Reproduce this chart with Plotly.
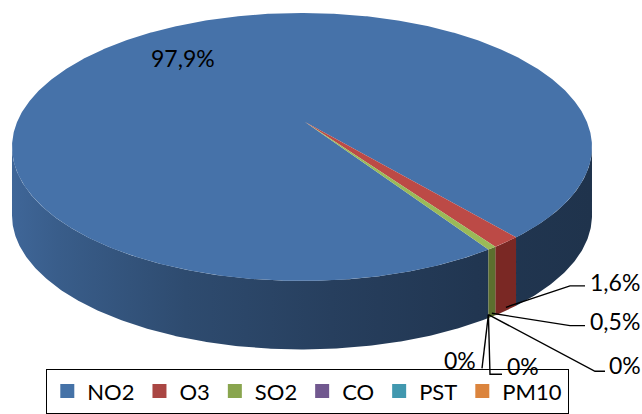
import numpy as np
import plotly.graph_objects as go

# ---------------- data ----------------
pollutants = ["NO2", "O3", "SO2", "CO", "PST", "PM10"]
shares = [97.9, 1.6, 0.5, 0.0, 0.0, 0.0]
label_texts = ["97,9%", "1,6%", "0,5%", "0%", "0%", "0%"]

# ---------------- style ----------------
legend_colors = ["#4572A7", "#AA4643", "#89A54E", "#71588F", "#4198AF", "#DB843D"]
top_colors = ["#4672A9", "#BC4A46", "#9ABA58", "#71588F", "#4198AF", "#DB843D"]
side_colors = ["#2C4A74", "#7A2824", "#5C6F2E", "#4A3A5E", "#2B6473", "#8F5628"]
side_shade = [(0.0, 0.90), (0.08, 0.82), (0.3, 0.66), (0.55, 0.56), (0.8, 0.48), (1.0, 0.45)]

W, H = 642, 414
CX, CY, A, B = 302, 148, 290, 135     # top ellipse (pixels)
DEPTH = 69
APEX = (305, 123)                       # perspective centre of the top face
START = 140.0                            # first slice angle, deg clockwise from 12 o'clock
FONT = "Lato, 'Open Sans', sans-serif"

# label placement (pixels): text anchor, xanchor, leader elbow points
label_layout = [
    dict(x=183, y=58, xa="center", path=None),
    dict(x=588, y=284, xa="left", path=[(570, 288), (585, 288)]),
    dict(x=588, y=323, xa="left", path=[(570, 328), (585, 328)]),
    dict(x=478, y=363, xa="right", path=[(482, 371)]),
    dict(x=505, y=369, xa="left", path=[(490, 377), (502, 377)]),
    dict(x=607, y=368, xa="left", path=[(595, 374), (605, 374)]),
]


def rim(theta, dy=0.0):
    t = np.radians(theta)
    return CX + A * np.sin(t), CY - B * np.cos(t) + dy


def hex_rgb(h):
    h = h.lstrip("#")
    return [int(h[i:i + 2], 16) for i in (0, 2, 4)]


fig = go.Figure()

total = sum(shares)
bounds = []
acc = START
for v in shares:
    span = 360.0 * v / total
    bounds.append((acc, acc + span))
    acc += span

# ---- side walls (front half visible: 90..270 deg) ----
for i, (t0, t1) in enumerate(bounds):
    if t1 - t0 <= 0:
        continue
    for k in range(-1, 3):
        v0, v1 = 90 + 360 * k, 270 + 360 * k
        u0, u1 = max(t0, v0), min(t1, v1)
        if u1 <= u0:
            continue
        n = max(4, int((u1 - u0) * 2))
        th = np.linspace(u0, u1, n)
        xt, yt = rim(th)
        xb, yb = rim(th[::-1], DEPTH)
        xs = np.concatenate([xt, xb, xt[:1]])
        ys = np.concatenate([yt, yb, yt[:1]])
        if i == 0:
            base = hex_rgb(top_colors[0])
            cs = [[p, "rgb(%d,%d,%d)" % tuple(int(c * f) for c in base)] for p, f in side_shade]
            fig.add_trace(go.Scatter(
                x=xs, y=ys, mode="lines", fill="toself", line=dict(width=0),
                fillgradient=dict(type="horizontal", start=CX - A, stop=CX + A, colorscale=cs),
                showlegend=False, hoverinfo="skip"))
        else:
            fig.add_trace(go.Scatter(
                x=xs, y=ys, mode="lines", fill="toself", line=dict(width=0),
                fillcolor=side_colors[i], showlegend=False, hoverinfo="skip"))

# ---- top faces ----
for i, (t0, t1) in enumerate(bounds):
    if t1 - t0 <= 0:
        continue
    n = max(4, int((t1 - t0) * 3))
    th = np.linspace(t0, t1, n)
    xr, yr = rim(th)
    xs = np.concatenate([[APEX[0]], xr, [APEX[0]]])
    ys = np.concatenate([[APEX[1]], yr, [APEX[1]]])
    fig.add_trace(go.Scatter(
        x=xs, y=ys, mode="lines", fill="toself", line=dict(width=0),
        fillcolor=top_colors[i], showlegend=False, hoverinfo="skip"))

# ---- labels and leader lines ----
annotations = []
for i, (t0, t1) in enumerate(bounds):
    lay = label_layout[i]
    if lay["path"]:
        mid = 0.5 * (t0 + t1)
        sx, sy = rim(mid, DEPTH * 0.95)
        px = [sx] + [p[0] for p in lay["path"]]
        py = [sy] + [p[1] for p in lay["path"]]
        fig.add_trace(go.Scatter(x=px, y=py, mode="lines",
                                 line=dict(color="black", width=1.4),
                                 showlegend=False, hoverinfo="skip"))
    annotations.append(dict(x=lay["x"], y=lay["y"], xref="x", yref="y",
                            text=label_texts[i], showarrow=False,
                            xanchor=lay["xa"], yanchor="middle",
                            font=dict(family=FONT, size=23, color="black")))

# ---- legend entries ----
for name, col in zip(pollutants, legend_colors):
    fig.add_trace(go.Scatter(x=[None], y=[None], mode="markers", name=name,
                             marker=dict(symbol="square", size=14, color=col)))

fig.update_layout(
    width=W, height=H, autosize=False,
    margin=dict(l=0, r=0, t=0, b=0),
    paper_bgcolor="white", plot_bgcolor="white",
    xaxis=dict(range=[0, W], visible=False, fixedrange=True),
    yaxis=dict(range=[H, 0], visible=False, fixedrange=True),
    annotations=annotations,
    showlegend=True,
    legend=dict(orientation="h", x=46 / W, y=1 - 372 / H, xanchor="left", yanchor="top",
                bordercolor="black", borderwidth=1.3, bgcolor="rgba(0,0,0,0)",
                font=dict(family=FONT, size=22, color="black"), traceorder="normal"),
)

fig.write_html("out.html")
